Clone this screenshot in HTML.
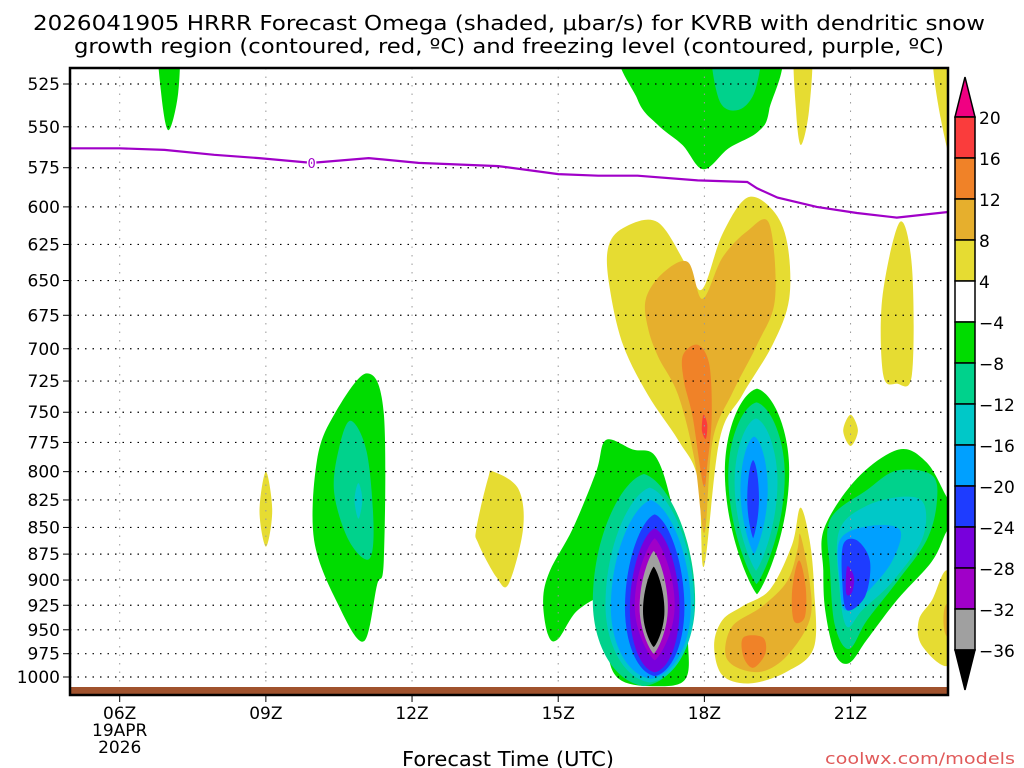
<!DOCTYPE html>
<html><head><meta charset="utf-8"><style>
body{margin:0;background:#fff;}
svg{display:block;font-family:"DejaVu Sans","Liberation Sans",sans-serif;}
</style></head><body>
<svg id="chart" width="1024" height="768" viewBox="0 0 1024 768" xmlns="http://www.w3.org/2000/svg">
<defs><clipPath id="plotclip"><rect x="70" y="68" width="878" height="627"/></clipPath></defs>
<g font-size="20" fill="#000">
<text x="509" y="30" text-anchor="middle" textLength="952" lengthAdjust="spacingAndGlyphs">2026041905 HRRR Forecast Omega (shaded, μbar/s) for KVRB with dendritic snow</text>
<text x="509" y="53" text-anchor="middle" textLength="870" lengthAdjust="spacingAndGlyphs">growth region (contoured, red, ºC) and freezing level (contoured, purple, ºC)</text>
</g>
<g id="grid"></g>
<g id="fields" clip-path="url(#plotclip)"></g>
<g id="over" clip-path="url(#plotclip)"></g>
<rect x="70" y="68" width="878" height="627" fill="none" stroke="#000" stroke-width="2.5"/>
<g id="axes" font-size="17" fill="#000"></g>
<g id="cbar" font-size="17"></g>
<text x="508" y="766" font-size="20" text-anchor="middle" textLength="212" lengthAdjust="spacingAndGlyphs">Forecast Time (UTC)</text>
<text x="1015" y="764" font-size="16" fill="#e05a5a" text-anchor="end" textLength="190" lengthAdjust="spacingAndGlyphs">coolwx.com/models</text>
</svg>
<script>
// ---- data ----
const pressureTicks=[525,550,575,600,625,650,675,700,725,750,775,800,825,850,875,900,925,950,975,1000];
const hourTicks=[6,9,12,15,18,21];
const hourTickLabels=["06Z","09Z","12Z","15Z","18Z","21Z"];
const cbarLabels=["20","16","12","8","4","−4","−8","−12","−16","−20","−24","−28","−32","−36"];
const levelColors=["#fa3c3c","#f08228","#e6af2d","#e6dc32","#ffffff","#00dc00","#00d28c","#00c8c8","#00a0ff","#1e3cff","#7800dc","#a000c8","#a0a0a0"];
// polygon regions: [level, points [hour, hPa]]
const yellowTop20=[[19.85,505],[20.2,505],[20.15,540],[19.98,561],[19.88,540]];
const yellowRightTop=[[22.7,505],[23.2,505],[23.2,580],[22.85,545]];
const greenTop07=[[6.8,500],[7.2,500],[7.2,530],[7.0,552],[6.85,530]];
const greenTopBig=[[16.4,502],[19.4,502],[19.33,540],[19.1,553],[18.5,563],[17.98,576],[17.55,561],[17.05,549],[16.63,534]];
const tealTopBig=[[18.2,502],[19.1,502],[19.05,528],[18.7,540],[18.3,534]];
const yellowMid=[[16.02,628],[16.33,614],[17.04,610],[17.66,641],[17.96,656],[18.37,618],[18.88,594],[19.4,602],[19.7,624],[19.74,663],[19.4,697],[18.78,736],[18.31,773],[17.99,887],[17.87,807],[17.46,773],[16.84,736],[16.33,697],[16.06,656]];
const orangeLightMid=[[16.8,663],[17.14,645],[17.66,637],[17.96,663],[18.37,634],[18.88,616],[19.33,611],[19.45,663],[19.08,697],[18.58,734],[18.17,773],[18.0,855],[17.8,790],[17.46,736],[17.05,706],[16.84,684]];
const orangeMid=[[17.56,705],[17.86,697],[18.1,712],[18.15,754],[18.06,794],[17.98,812],[17.76,754],[17.58,725]];
const redMid=[[17.98,752],[18.06,760],[18.03,772],[17.95,765]];
const yellow22=[[22.01,610],[22.26,640],[22.26,720],[21.95,727],[21.67,720],[21.65,663]];
const yellowDiamond21=[[21.0,752],[21.15,765],[21.0,778],[20.85,765]];
const green11=[[11.07,719],[11.42,751],[11.42,881],[11.28,905],[11.01,962],[10.5,926],[9.99,862],[10.05,790],[10.4,752]];
const teal11=[[10.74,757],[11.07,783],[11.21,848],[11.11,880],[10.7,862],[10.4,818],[10.5,780]];
const cyan11=[[10.9,810],[10.98,825],[10.9,842],[10.82,825]];
const yellow09=[[9.0,800],[9.13,835],[9.0,868],[8.87,835]];
const yellow135=[[13.67,800],[14.18,815],[14.28,851],[13.98,904],[13.73,897],[13.36,865],[13.32,851],[13.56,806]];
const green17=[[14.69,920],[14.83,891],[15.3,851],[15.78,800],[15.98,773],[16.53,781],[16.98,786],[17.29,822],[17.49,881],[17.66,960],[17.6,1003],[16.94,1010],[16.27,1003],[16.02,975],[15.98,920],[15.4,930],[14.99,960],[14.79,955]];
const yellowLow19=[[19.97,832],[20.16,862],[20.25,907],[20.25,968],[19.7,994],[18.94,1007],[18.37,998],[18.2,966],[18.37,940],[18.78,926],[19.35,909],[19.8,866]];
const orangeLightLow19=[[19.97,857],[20.16,901],[20.16,940],[19.7,977],[19.19,994],[18.68,990],[18.43,975],[18.58,946],[19.19,926],[19.7,901],[19.91,871]];
const orangeLow20=[[19.94,881],[20.08,907],[20.06,937],[19.84,941],[19.8,911]];
const orangeLow19=[[18.8,958],[19.2,958],[19.25,975],[19.0,990],[18.8,978]];
const green21=[[20.46,851],[21.13,806],[21.99,781],[22.56,792],[22.97,822],[23.2,840],[22.97,854],[22.67,882],[21.95,920],[21.34,960],[20.97,985],[20.68,975],[20.48,930],[20.44,891]];
const teal21=[[20.58,843],[21.34,816],[21.95,799],[22.67,803],[22.77,827],[22.56,862],[21.95,902],[21.34,940],[20.97,970],[20.68,946],[20.58,891]];
const cyan21=[[20.76,854],[21.34,830],[22.15,822],[22.52,830],[22.46,862],[21.85,902],[21.24,930],[20.93,947],[20.78,912]];
const lblue21=[[20.78,862],[21.34,849],[22.01,852],[21.85,882],[21.34,912],[20.89,930],[20.78,902]];
const blue21=[[20.85,866],[21.13,862],[21.4,882],[21.3,916],[20.93,930],[20.83,902]];
const purple21=[[20.93,887],[21.07,897],[21.03,912],[20.91,913]];
const yellowRightLow=[[23.0,891],[22.67,920],[22.4,940],[22.46,966],[23.0,988],[23.3,950]];
const orangeRightLow=[[22.95,925],[23.3,925],[23.3,960],[22.95,955]];
// lens regions: [level, centerHour, halfWidthHours, topHPa, bottomHPa, widestFraction]
const lens17=[[6,16.76,1.05,802,1010,0.6],[7,16.88,0.91,814,1006,0.6],[8,16.9,0.82,825,1002,0.6],[9,16.98,0.61,838,999,0.58],[10,16.98,0.51,851,995,0.56],[11,16.98,0.41,860,982,0.55],[12,16.96,0.29,872,975,0.55],[13,16.96,0.22,887,968,0.55]];
const lens19=[[5,19.08,0.66,731,914,0.4],[6,19.07,0.58,742,904,0.4],[7,19.06,0.44,755,891,0.42],[8,19.02,0.28,770,875,0.45],[9,19.0,0.12,790,860,0.5]];
// freezing level line [hour, hPa]
const freezeHours=[4.9,6,6.92,7.94,8.86,9.94,11.11,12.13,13.77,15.0,15.82,16.63,17.86,18.88,19.08,19.5,20.31,21.13,21.95,23.1];
const freezeP=[563,563,564,567,569,572,569,572,574,579,580,580,583,584,588,594,600,604,607,603];

// ---- axes ----
const X0=70,X1=948,H0=4.98,H1=23.0;
function xs(h){return X0+(h-H0)*(X1-X0)/(H1-H0);}
function ys(p){return 84+(Math.log(p)-Math.log(525))*(677-84)/(Math.log(1000)-Math.log(525));}
const NS="http://www.w3.org/2000/svg";
function mk(tag,attrs,parent){const e=document.createElementNS(NS,tag);for(const k in attrs)e.setAttribute(k,attrs[k]);parent.appendChild(e);return e;}
const levelFill=["#fa3c3c","#f08228","#e6af2d","#e6dc32","#ffffff","#00dc00","#00d28c","#00c8c8","#00a0ff","#1e3cff","#7800dc","#a000c8","#a0a0a0","#000000"];
function smoothPath(pts){
  const P=pts.map(q=>[xs(q[0]),ys(q[1])]);const n=P.length;
  let d="M"+P[0][0].toFixed(1)+","+P[0][1].toFixed(1);
  for(let i=0;i<n;i++){const p0=P[(i-1+n)%n],p1=P[i],p2=P[(i+1)%n],p3=P[(i+2)%n];
    const c1=[p1[0]+(p2[0]-p0[0])/6,p1[1]+(p2[1]-p0[1])/6],c2=[p2[0]-(p3[0]-p1[0])/6,p2[1]-(p3[1]-p1[1])/6];
    d+="C"+c1[0].toFixed(1)+","+c1[1].toFixed(1)+" "+c2[0].toFixed(1)+","+c2[1].toFixed(1)+" "+p2[0].toFixed(1)+","+p2[1].toFixed(1);}
  return d+"Z";
}
function lensPath(L,kt,kb){
  const cx=xs(L[1]),w=xs(L[1]+L[2])-cx,t=ys(L[3]),b=ys(L[4]),m=t+(b-t)*L[5];
  const hu=m-t,hb=b-m;
  return "M"+cx+","+t+"C"+(cx+w*kt)+","+(t+hu*0.05)+" "+(cx+w)+","+(m-hu*0.5)+" "+(cx+w)+","+m+
    "C"+(cx+w)+","+(m+hb*0.5)+" "+(cx+w*kb)+","+(b-hb*0.05)+" "+cx+","+b+
    "C"+(cx-w*kb)+","+(b-hb*0.05)+" "+(cx-w)+","+(m+hb*0.5)+" "+(cx-w)+","+m+
    "C"+(cx-w)+","+(m-hu*0.5)+" "+(cx-w*kt)+","+(t+hu*0.05)+" "+cx+","+t+"Z";
}
const fields=document.getElementById("fields");
const regions=[[3,yellowTop20],[3,yellowRightTop],[5,greenTop07],[5,greenTopBig],[6,tealTopBig],[3,yellowMid],[2,orangeLightMid],[1,orangeMid],[0,redMid],[3,yellow22],[3,yellowDiamond21],[5,green11],[6,teal11],[7,cyan11],[3,yellow09],[3,yellow135],[5,green17],[3,yellowLow19],[2,orangeLightLow19],[1,orangeLow20],[1,orangeLow19],[5,green21],[6,teal21],[7,cyan21],[8,lblue21],[9,blue21],[10,purple21],[3,yellowRightLow],[2,orangeRightLow]];
regions.forEach((r,i)=>{
  const e=mk("path",{d:smoothPath(r[1]),fill:levelFill[r[0]]},fields);
  
  
  if(i===16){
    lens17.forEach((L,j)=>{const kt=j<5?0.45:0.25,kb=j<5?0.6:0.25;
      const l=mk("path",{d:lensPath(L,kt,kb),fill:levelFill[L[0]]},fields);
      
      });
  }
});
lens19.forEach(L=>{const l=mk("path",{d:lensPath(L,0.5,0.2),fill:levelFill[L[0]]},fields);
  
  });

// grid
const grid=document.getElementById("grid");
pressureTicks.forEach(p=>{const g=mk("line",{x1:X0,x2:X1,y1:ys(p),y2:ys(p),stroke:"#000","stroke-width":1.2,"stroke-dasharray":"1.5 6"},grid);
  
  });
hourTicks.forEach(h=>{const g=mk("line",{x1:xs(h),x2:xs(h),y1:68,y2:695,stroke:"#999","stroke-width":1,"stroke-dasharray":"1.5 7"},grid);
  
  });
document.getElementById("chart").insertBefore(grid,document.getElementById("over"));

// overlays
const over=document.getElementById("over");
const fp=freezeHours.map((h,i)=>xs(h).toFixed(1)+","+ys(freezeP[i]).toFixed(1)).join(" ");
const fl=mk("polyline",{points:fp,fill:"none",stroke:"#a000c8","stroke-width":2.2},over);


const fl0=mk("text",{x:xs(9.94),y:ys(572)+5,"font-size":13,fill:"#a000c8","text-anchor":"middle",stroke:"#fff","stroke-width":3,"paint-order":"stroke"},over);
fl0.textContent="0";


const terr=mk("rect",{x:X0,y:687,width:X1-X0,height:7,fill:"#a0522d"},over);



// axes
const axes=document.getElementById("axes");
pressureTicks.forEach(p=>{
  const t=mk("text",{x:60,y:ys(p)+6,"text-anchor":"end"},axes);t.textContent=String(p);
  
  
  const tk=mk("line",{x1:63,x2:70,y1:ys(p),y2:ys(p),stroke:"#000","stroke-width":1},axes);
  
  
});
hourTicks.forEach((h,i)=>{
  const tk=mk("line",{x1:xs(h),x2:xs(h),y1:695,y2:702,stroke:"#000","stroke-width":1},axes);
  
  
  const t=mk("text",{x:xs(h),y:719,"text-anchor":"middle"},axes);t.textContent=hourTickLabels[i];
  
  
});
const d1=mk("text",{x:xs(6),y:736,"text-anchor":"middle"},axes);d1.textContent="19APR";


const d2=mk("text",{x:xs(6),y:753,"text-anchor":"middle"},axes);d2.textContent="2026";



// colorbar
const cb=document.getElementById("cbar");
const CBX=955,CBW=20,CBT=117,CBS=41;
const tri1=mk("polygon",{points:`${CBX},${CBT} ${CBX+CBW},${CBT} ${CBX+CBW/2},${CBT-40}`,fill:"#f00082",stroke:"#000","stroke-width":1.5},cb);


levelColors.forEach((c,i)=>{const r=mk("rect",{x:CBX,y:CBT+i*CBS,width:CBW,height:CBS,fill:c,stroke:"#000","stroke-width":1.5},cb);
  
  });
const yEnd=CBT+levelColors.length*CBS;
const tri2=mk("polygon",{points:`${CBX},${yEnd} ${CBX+CBW},${yEnd} ${CBX+CBW/2},${yEnd+40}`,fill:"#000",stroke:"#000","stroke-width":1.5},cb);


cbarLabels.forEach((s,i)=>{const t=mk("text",{x:979,y:CBT+i*CBS+7},cb);t.textContent=s;
  
  });
</script>
</body></html>
